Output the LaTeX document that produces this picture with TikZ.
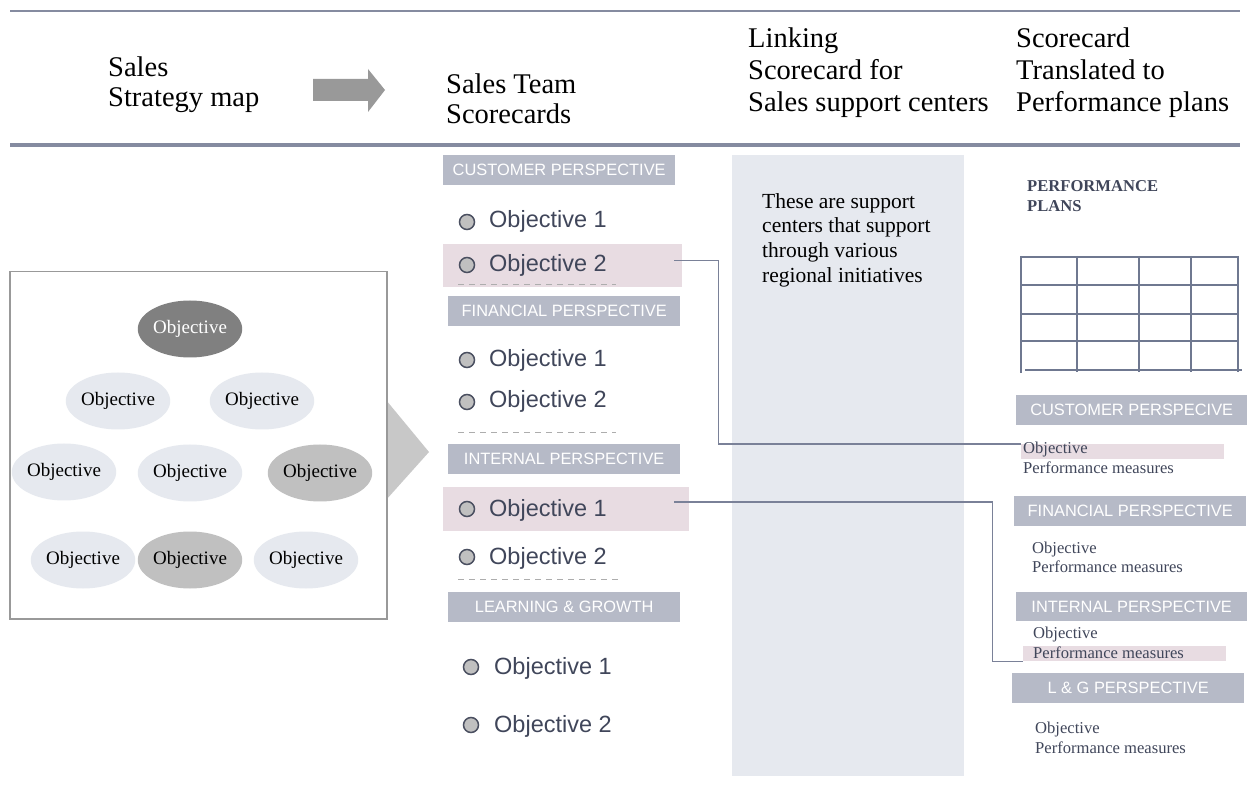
\documentclass[tikz,border=0pt]{standalone}
\usepackage{fontspec}
\setmainfont{Liberation Serif}
\newfontfamily\arial{Liberation Sans}
\usetikzlibrary{shapes.geometric,calc}

\definecolor{ruleC}{HTML}{858BA0}
\definecolor{linkC}{HTML}{7A8198}
\definecolor{barC}{HTML}{B6BAC7}
\definecolor{pinkC}{HTML}{E8DCE2}
\definecolor{panelC}{HTML}{E6E9EF}
\definecolor{midC}{HTML}{C0C0C0}
\definecolor{darkC}{HTML}{808080}
\definecolor{txtC}{HTML}{40465A}
\definecolor{dotC}{HTML}{4A4F60}
\definecolor{arrC}{HTML}{999999}
\definecolor{chevC}{HTML}{C8C8C8}
\definecolor{gridC}{HTML}{6F7890}

\tikzset{
  hdr/.style={font=\fontsize{28.5}{32}\selectfont, anchor=base west, inner sep=0pt},
  bar/.style={fill=barC, text=white, font=\arial\fontsize{16.4}{18}\selectfont,
              inner sep=0pt, minimum height=30pt, anchor=north west},
  hl/.style={fill=pinkC, inner sep=0pt, anchor=north west},
  dotmark/.style={circle, fill=midC, draw=dotC, line width=1.5pt, minimum size=15pt, inner sep=0pt},
  objtxt/.style={font=\arial\fontsize{23.5}{26}\selectfont, text=txtC, anchor=base west, inner sep=0pt},
  sep/.style={draw=arrC!80, line width=1pt, dash pattern=on 6pt off 5pt},
  objell/.style={ellipse, minimum width=101pt, minimum height=57pt, inner sep=0pt,
                 font=\fontsize{19}{21}\selectfont},
  plantxt/.style={font=\fontsize{16.6}{18}\selectfont, text=txtC, anchor=base west, inner sep=0pt},
  link/.style={draw=linkC, line width=1.6pt},
}

\begin{document}
\begin{tikzpicture}[x=1pt, y=-1pt]
\useasboundingbox (0,0) rectangle (1251,799);

% header rules
\coordinate (tl) at (10,11);  \coordinate (tr) at (1240,11);
\coordinate (bl) at (10,145); \coordinate (br) at (1240,145);
\draw[draw=ruleC, line width=2pt] (tl) -- (tr);
\draw[draw=ruleC, line width=4pt] (bl) -- (br);

% header titles
\node[hdr] (h1a) at (108,77) {Sales};
\node[hdr] (h1b) at (108,107) {Strategy map};
\node[hdr] (h2a) at (446,94) {Sales Team};
\node[hdr] (h2b) at (446,124) {Scorecards};
\node[hdr] (h3a) at (748,48) {Linking};
\node[hdr] (h3b) at (748,80) {Scorecard for};
\node[hdr] (h3c) at (748,112) {Sales support centers};
\node[hdr] (h4a) at (1016,48) {Scorecard};
\node[hdr] (h4b) at (1016,80) {Translated to};
\node[hdr] (h4c) at (1016,112) {Performance plans};

% block arrow in the header
\fill[arrC] (313,79) -- (368,79) -- (368,69) -- (385,90) -- (368,112) -- (368,101) -- (313,101) -- cycle;

% strategy map: chevron behind the framed box
\fill[chevC] (380,400) -- (386,400) -- (429,452) -- (386,500) -- (380,500) -- cycle;
\node[draw=arrC, fill=white, line width=1.5pt, minimum width=377pt, minimum height=347pt,
      inner sep=0pt, anchor=north west] (map) at (9,271) {};

\node[objell, fill=darkC, text=white] (e1) at (190,329) {Objective};
\node[objell, fill=panelC] (e2) at (118,401) {Objective};
\node[objell, fill=panelC] (e3) at (262,401) {Objective};
\node[objell, fill=panelC] (e4) at (64,472) {Objective};
\node[objell, fill=panelC] (e5) at (190,473) {Objective};
\node[objell, fill=midC] (e6) at (320,473) {Objective};
\node[objell, fill=panelC] (e7) at (83,560) {Objective};
\node[objell, fill=midC] (e8) at (190,560) {Objective};
\node[objell, fill=panelC] (e9) at (306,560) {Objective};

% support-centre panel
\node[fill=panelC, minimum width=232pt, minimum height=621pt, inner sep=0pt, anchor=north west] (panel) at (732,155) {};
\node[font=\fontsize{21.5}{24.7}\selectfont, align=left, anchor=north west, inner sep=0pt] (ptxt) at (762,193)
  {These are support\\centers that support\\through various\\regional initiatives};

% sales team scorecards
\node[hl, minimum width=239pt, minimum height=43pt] (hlA) at (443,244) {};
\node[hl, minimum width=246pt, minimum height=44pt] (hlB) at (443,487) {};

\node[bar, minimum width=232pt] (cp) at (443,155) {CUSTOMER PERSPECTIVE};
\node[dotmark] (d1) at (467,222) {};  \node[objtxt] (o1) at (489,228) {Objective 1};
\node[dotmark] (d2) at (467,265) {};  \node[objtxt] (o2) at (489,272) {Objective 2};
\coordinate (s1a) at (458,285); \coordinate (s1b) at (616,285);
\draw[sep] (s1a) -- (s1b);

\node[bar, minimum width=232pt] (fp) at (448,296) {FINANCIAL PERSPECTIVE};
\node[dotmark] (d3) at (467,360) {};  \node[objtxt] (o3) at (489,367) {Objective 1};
\node[dotmark] (d4) at (467,402) {};  \node[objtxt] (o4) at (489,408) {Objective 2};
\coordinate (s2a) at (458,433); \coordinate (s2b) at (616,433);
\draw[sep] (s2a) -- (s2b);

\node[bar, minimum width=232pt] (ip) at (448,444) {INTERNAL PERSPECTIVE};
\node[dotmark] (d5) at (467,509) {};  \node[objtxt] (o5) at (489,517) {Objective 1};
\node[dotmark] (d6) at (467,557) {};  \node[objtxt] (o6) at (489,564) {Objective 2};
\coordinate (s3a) at (458,579); \coordinate (s3b) at (618,579);
\draw[sep] (s3a) -- (s3b);

\node[bar, minimum width=232pt] (lp) at (448,592) {LEARNING \& GROWTH};
\node[dotmark] (d7) at (471,667) {};  \node[objtxt] (o7) at (494,674) {Objective 1};
\node[dotmark] (d8) at (471,725) {};  \node[objtxt] (o8) at (494,732) {Objective 2};

% performance plans
\node[font=\bfseries\fontsize{16.6}{20}\selectfont, text=txtC, align=left, anchor=north west, inner sep=0pt] (pp) at (1027,180)
  {PERFORMANCE\\PLANS};
\foreach \gx in {1077,1139,1191,1238}
  \draw[draw=gridC, line width=1.8pt] (\gx,256) -- (\gx,372);
\draw[draw=gridC, line width=1.8pt] (1021,256) -- (1021,373);
\foreach \gy in {257,285,314,341}
  \draw[draw=gridC, line width=1.8pt] (1021,\gy) -- (1238,\gy);
\draw[draw=gridC, line width=1.8pt] (1025,370) -- (1242,370);

\node[hl, minimum width=203pt, minimum height=15pt] (hlC) at (1021,444) {};
\node[hl, minimum width=203pt, minimum height=15pt] (hlD) at (1023,646) {};

\node[bar, minimum width=231pt] (rc) at (1016,395) {CUSTOMER PERSPECIVE};
\node[plantxt] (r1a) at (1023,454) {Objective};
\node[plantxt] (r1b) at (1023,474) {Performance measures};

\node[bar, minimum width=232pt] (rf) at (1014,496) {FINANCIAL PERSPECTIVE};
\node[plantxt] (r2a) at (1032,553) {Objective};
\node[plantxt] (r2b) at (1032,572) {Performance measures};

\node[bar, minimum width=231pt, minimum height=29pt] (ri) at (1016,592) {INTERNAL PERSPECTIVE};
\node[plantxt] (r3a) at (1033,638) {Objective};
\node[plantxt] (r3b) at (1033,658) {Performance measures};

\node[bar, minimum width=232pt] (rl) at (1012,673) {L \& G PERSPECTIVE};
\node[plantxt] (r4a) at (1035,733) {Objective};
\node[plantxt] (r4b) at (1035,753) {Performance measures};

% links from team objectives to plan rows
\draw[link] ([xshift=-8pt,yshift=5pt]hlA.east) -- ++(44,0) |- (hlC.north west);
\draw[link] ([xshift=-15pt,yshift=7pt]hlB.east) -- ++(318,0) |- (hlD.south west);
\end{tikzpicture}
\end{document}
